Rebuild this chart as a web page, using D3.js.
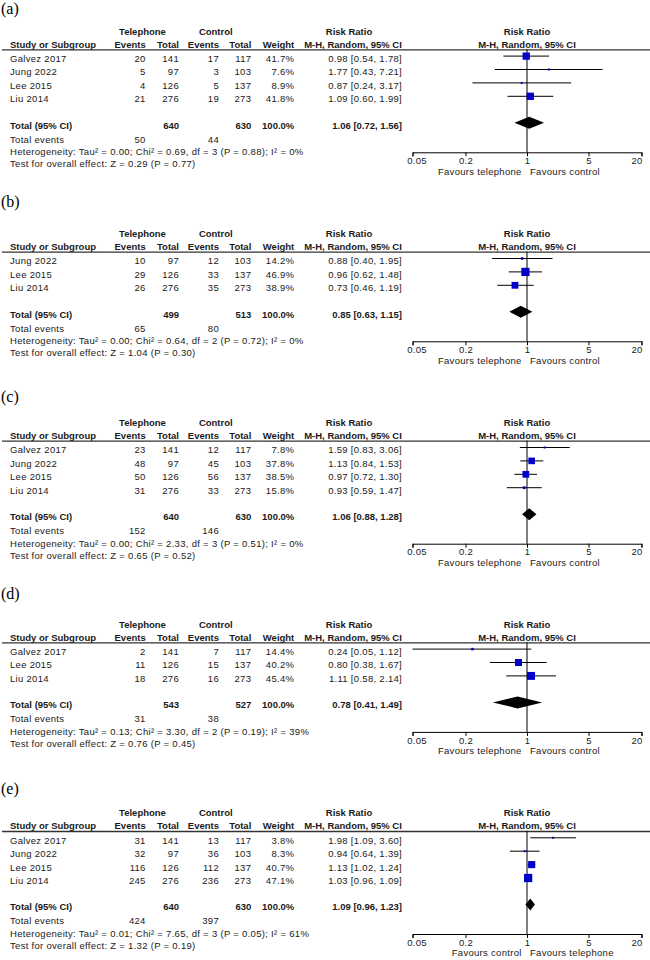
<!DOCTYPE html>
<html>
<head>
<meta charset="utf-8">
<script src="https://cdn.jsdelivr.net/npm/d3@7"></script>
<style>
body { margin: 0; background: #fff; }
svg { display: block; }
</style>
</head>
<body>
<svg id="chart" width="650" height="960"></svg>
<script>
// ---------------- DATA ----------------
const panelLabels = ["(a)", "(b)", "(c)", "(d)", "(e)"];
const studyNames = [
  ["Galvez 2017", "Jung 2022", "Lee 2015", "Liu 2014"],
  ["Jung 2022", "Lee 2015", "Liu 2014"],
  ["Galvez 2017", "Jung 2022", "Lee 2015", "Liu 2014"],
  ["Galvez 2017", "Lee 2015", "Liu 2014"],
  ["Galvez 2017", "Jung 2022", "Lee 2015", "Liu 2014"]
];
const telEvents = [[20, 5, 4, 21], [10, 29, 26], [23, 48, 50, 31], [2, 11, 18], [31, 32, 116, 245]];
const telTotals = [[141, 97, 126, 276], [97, 126, 276], [141, 97, 126, 276], [141, 126, 276], [141, 97, 126, 276]];
const ctlEvents = [[17, 3, 5, 19], [12, 33, 35], [12, 45, 56, 33], [7, 15, 16], [13, 36, 112, 236]];
const ctlTotals = [[117, 103, 137, 273], [103, 137, 273], [117, 103, 137, 273], [117, 137, 273], [117, 103, 137, 273]];
const weights = [[41.7, 7.6, 8.9, 41.8], [14.2, 46.9, 38.9], [7.8, 37.8, 38.5, 15.8], [14.4, 40.2, 45.4], [3.8, 8.3, 40.7, 47.1]];
const rr = [[0.98, 1.77, 0.87, 1.09], [0.88, 0.96, 0.73], [1.59, 1.13, 0.97, 0.93], [0.24, 0.80, 1.11], [1.98, 0.94, 1.13, 1.03]];
const rrLow = [[0.54, 0.43, 0.24, 0.60], [0.40, 0.62, 0.46], [0.83, 0.84, 0.72, 0.59], [0.05, 0.38, 0.58], [1.09, 0.64, 1.02, 0.96]];
const rrHigh = [[1.78, 7.21, 3.17, 1.99], [1.95, 1.48, 1.19], [3.06, 1.53, 1.30, 1.47], [1.12, 1.67, 2.14], [3.60, 1.39, 1.24, 1.09]];
const totalTel = [640, 499, 640, 543, 640];
const totalCtl = [630, 513, 630, 527, 630];
const totalEventsTel = [50, 65, 152, 31, 424];
const totalEventsCtl = [44, 80, 146, 38, 397];
const pooledRR = [1.06, 0.85, 1.06, 0.78, 1.09];
const pooledLow = [0.72, 0.63, 0.88, 0.41, 0.96];
const pooledHigh = [1.56, 1.15, 1.28, 1.49, 1.23];
const heterogeneity = [
  "Heterogeneity: Tau² = 0.00; Chi² = 0.69, df = 3 (P = 0.88); I² = 0%",
  "Heterogeneity: Tau² = 0.00; Chi² = 0.64, df = 2 (P = 0.72); I² = 0%",
  "Heterogeneity: Tau² = 0.00; Chi² = 2.33, df = 3 (P = 0.51); I² = 0%",
  "Heterogeneity: Tau² = 0.13; Chi² = 3.30, df = 2 (P = 0.19); I² = 39%",
  "Heterogeneity: Tau² = 0.01; Chi² = 7.65, df = 3 (P = 0.05); I² = 61%"
];
const overallEffect = [
  "Test for overall effect: Z = 0.29 (P = 0.77)",
  "Test for overall effect: Z = 1.04 (P = 0.30)",
  "Test for overall effect: Z = 0.65 (P = 0.52)",
  "Test for overall effect: Z = 0.76 (P = 0.45)",
  "Test for overall effect: Z = 1.32 (P = 0.19)"
];
const axisTicks = [0.05, 0.2, 1, 5, 20];
const favoursLeft = ["Favours telephone", "Favours telephone", "Favours telephone", "Favours telephone", "Favours control"];
const favoursRight = ["Favours control", "Favours control", "Favours control", "Favours control", "Favours telephone"];

// ---------------- LAYOUT ----------------
const svg = d3.select("#chart");
const FONT = "'Liberation Sans', Arial, sans-serif";
const FS = 9.5;
const TXT = "#1a1a1a";
const ruleY = [49.3, 251.7, 440.7, 642.3, 831];
const labelY = [8.3, 201.7, 396.7, 593.3, 788.3];
const rowStep = 13.4;

const col = { name: 10, ev1: 145.7, tot1: 179, ev2: 219, tot2: 251.3, wt: 294.3, rr: 402 };

const x = d3.scaleLog().domain([0.05, 20]).range([527 - Math.log10(20) * 88, 527 + Math.log10(20) * 88]);
const sq = d3.scaleLinear().domain([0, 100]).range([0, 17.5]);
const fmt2 = d3.format(".2f");
const fmtW = d3.format(".1f");

function txt(g, s, xx, cy, anchor, bold) {
  const t = g.append("text")
    .attr("x", xx).attr("y", cy + FS * 0.36)
    .attr("text-anchor", anchor || "start")
    .attr("font-family", FONT)
    .attr("font-size", FS)
    .attr("font-weight", bold ? "bold" : "normal")
    .attr("fill", TXT)
    .text(s);
  if (!bold) t.attr("letter-spacing", 0.3);
  return t;
}

panelLabels.forEach((lab, p) => {
  const g = svg.append("g");
  const rY = ruleY[p];
  // panel label
  g.append("text").attr("x", 1).attr("y", labelY[p] + 5.5)
    .attr("font-family", "'Liberation Serif', 'Times New Roman', serif")
    .attr("font-size", 16).attr("fill", "#000").text(lab);

  // headers
  const h1 = rY - 18, h2 = rY - 5;
  txt(g, "Telephone", 142.5, h1, "middle", true);
  txt(g, "Control", 215.8, h1, "middle", true);
  txt(g, "Risk Ratio", 349, h1, "middle", true);
  txt(g, "Risk Ratio", 527, h1, "middle", true);
  txt(g, "Study or Subgroup", col.name, h2, "start", true);
  txt(g, "Events", col.ev1, h2, "end", true);
  txt(g, "Total", col.tot1, h2, "end", true);
  txt(g, "Events", col.ev2, h2, "end", true);
  txt(g, "Total", col.tot2, h2, "end", true);
  txt(g, "Weight", col.wt, h2, "end", true);
  txt(g, "M-H, Random, 95% CI", 353, h2, "middle", true);
  txt(g, "M-H, Random, 95% CI", 527, h2, "middle", true);

  g.append("line").attr("x1", 2).attr("x2", 650).attr("y1", rY + 0.5).attr("y2", rY + 0.5)
    .attr("stroke", "#333").attr("stroke-width", 1.3);

  // study rows
  const names = studyNames[p];
  const rowC = i => rY + 9.3 + rowStep * i;
  names.forEach((nm, i) => {
    const cy = rowC(i);
    txt(g, nm, col.name, cy, "start");
    txt(g, telEvents[p][i], col.ev1, cy, "end");
    txt(g, telTotals[p][i], col.tot1, cy, "end");
    txt(g, ctlEvents[p][i], col.ev2, cy, "end");
    txt(g, ctlTotals[p][i], col.tot2, cy, "end");
    txt(g, fmtW(weights[p][i]) + "%", col.wt, cy, "end");
    txt(g, `${fmt2(rr[p][i])} [${fmt2(rrLow[p][i])}, ${fmt2(rrHigh[p][i])}]`, col.rr, cy, "end");
  });

  const totC = rowC(names.length - 1) + 26.5;
  txt(g, "Total (95% CI)", col.name, totC, "start", true);
  txt(g, totalTel[p], col.tot1, totC, "end", true);
  txt(g, totalCtl[p], col.tot2, totC, "end", true);
  txt(g, "100.0%", col.wt, totC, "end", true);
  txt(g, `${fmt2(pooledRR[p])} [${fmt2(pooledLow[p])}, ${fmt2(pooledHigh[p])}]`, col.rr, totC, "end", true);

  txt(g, "Total events", col.name, totC + 14, "start");
  txt(g, totalEventsTel[p], col.ev1, totC + 14, "end");
  txt(g, totalEventsCtl[p], col.ev2, totC + 14, "end");
  txt(g, heterogeneity[p], col.name, totC + 26.5, "start");
  txt(g, overallEffect[p], col.name, totC + 38.5, "start");

  // forest plot
  const axisY = totC + 27;
  g.append("line").attr("x1", x(1)).attr("x2", x(1)).attr("y1", rY).attr("y2", axisY)
    .attr("stroke", "#000").attr("stroke-width", 1);

  names.forEach((nm, i) => {
    const my = rowC(i) - 2.5;
    g.append("line").attr("x1", x(rrLow[p][i])).attr("x2", x(rrHigh[p][i]))
      .attr("y1", my).attr("y2", my).attr("stroke", "#000").attr("stroke-width", 1);
    const s = Math.max(2, sq(weights[p][i]));
    g.append("rect").attr("x", x(rr[p][i]) - s / 2).attr("y", my - s / 2)
      .attr("width", s).attr("height", s).attr("fill", "#0000c8");
  });

  const dy = totC - 2.5;
  g.append("path")
    .attr("d", `M${x(pooledLow[p])},${dy} L${x(pooledRR[p])},${dy - 6} L${x(pooledHigh[p])},${dy} L${x(pooledRR[p])},${dy + 6} Z`)
    .attr("fill", "#000");

  const ax = g.append("g").attr("transform", `translate(0,${axisY})`)
    .call(d3.axisBottom(x).tickValues(axisTicks).tickSize(4).tickFormat(d => String(d)));
  ax.select(".domain").attr("stroke", "#000");
  ax.selectAll(".tick line").attr("stroke", "#000");
  ax.selectAll("text").attr("font-family", FONT).attr("font-size", FS).attr("fill", TXT)
    .attr("letter-spacing", 0.3).attr("dy", "0.5em")
    .attr("dx", d => d === axisTicks[0] ? 4 : (d === axisTicks[axisTicks.length - 1] ? -5 : 0));

  txt(g, favoursLeft[p], 521.7, axisY + 19, "end");
  txt(g, favoursRight[p], 530, axisY + 19, "start");
});
</script>
</body>
</html>
